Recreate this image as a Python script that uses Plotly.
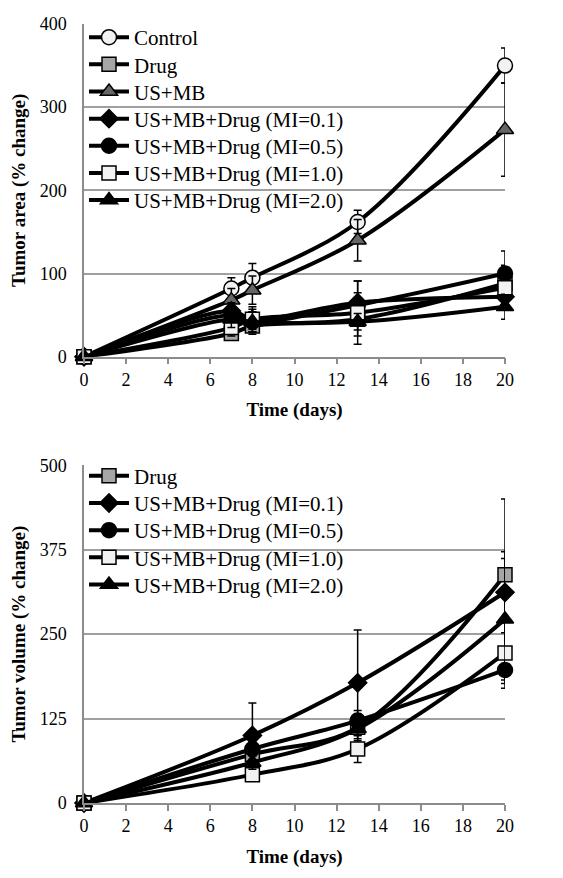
import plotly.graph_objects as go
from plotly.subplots import make_subplots

# ---- data: top panel (tumor area) ----
days_top = [0, 7, 8, 13, 20]
area_control = [0, 82, 95, 162, 350]
area_control_err = [0, 13, 17, 14, 21]
area_drug = [0, 28, 37, 45, 88]
area_drug_err = [0, 8, 10, 20, 22]
area_usmb = [0, 68, 80, 140, 273]
area_usmb_err = [0, 14, 17, 25, 56]
area_mi01 = [0, 55, 45, 65, 72]
area_mi01_err = [0, 10, 12, 26, 15]
area_mi05 = [0, 50, 42, 62, 100]
area_mi05_err = [0, 10, 12, 15, 27]
area_mi10 = [0, 35, 45, 53, 83]
area_mi10_err = [0, 10, 15, 38, 15]
area_mi20 = [0, 45, 42, 42, 60]
area_mi20_err = [0, 10, 12, 10, 15]

# ---- data: bottom panel (tumor volume) ----
days_bot = [0, 8, 13, 20]
vol_drug = [0, 72, 112, 338]
vol_drug_err = [0, 15, 20, 112]
vol_mi01 = [0, 100, 178, 312]
vol_mi01_err = [0, 48, 78, 60]
vol_mi05 = [0, 80, 122, 197]
vol_mi05_err = [0, 10, 15, 27]
vol_mi10 = [0, 42, 80, 222]
vol_mi10_err = [0, 8, 20, 45]
vol_mi20 = [0, 60, 110, 272]
vol_mi20_err = [0, 10, 15, 90]

x_ticks = list(range(0, 21, 2))

FONT = "Liberation Serif"

styles = {
    "Control": dict(symbol="circle", color="#f2f2f2", size=15),
    "Drug": dict(symbol="square", color="#a6a6a6", size=14),
    "US+MB": dict(symbol="triangle-up", color="#666666", size=15),
    "US+MB+Drug (MI=0.1)": dict(symbol="diamond", color="#000000", size=14),
    "US+MB+Drug (MI=0.5)": dict(symbol="circle", color="#000000", size=15),
    "US+MB+Drug (MI=1.0)": dict(symbol="square", color="#f2f2f2", size=14),
    "US+MB+Drug (MI=2.0)": dict(symbol="triangle-up", color="#000000", size=15),
}

# page has an 8px body margin; compensate so the plot lands where the reference has it
OFF = 8
W, H = 563 - OFF, 878 - OFF
plot_top_px, plot_bot_px = 14, 803
plot_h = plot_bot_px - plot_top_px
def fy(px):
    return (plot_bot_px - px) / plot_h

fig = make_subplots(rows=2, cols=1, vertical_spacing=0.13)

legend_layouts = {}
leg_font = dict(family=FONT, size=21, color="black")
counter = [1]

def add(name, x, y, err, row, first_center_px, idx):
    st = styles[name]
    counter[0] += 1
    lname = f"legend{counter[0]}"
    center = first_center_px + 27.5 * idx
    legend_layouts[lname] = dict(
        font=leg_font, bgcolor="rgba(0,0,0,0)", xanchor="left", yanchor="middle",
        itemwidth=40, x=0.0, y=fy(center - 4))
    fig.add_trace(go.Scatter(
        x=x, y=y, name=name, mode="lines+markers",
        line=dict(color="black", width=4, shape="spline"),
        marker=dict(symbol=st["symbol"], color=st["color"], size=st["size"],
                    line=dict(color="black", width=1.5)),
        error_y=dict(type="data", array=err, color="black", thickness=1.5, width=4),
        cliponaxis=False, legend=lname,
    ), row=row, col=1)

TOP_FIRST = 31.7
BOT_FIRST = 476
add("Control", days_top, area_control, area_control_err, 1, TOP_FIRST, 0)
add("Drug", days_top, area_drug, area_drug_err, 1, TOP_FIRST, 1)
add("US+MB", days_top, area_usmb, area_usmb_err, 1, TOP_FIRST, 2)
add("US+MB+Drug (MI=0.1)", days_top, area_mi01, area_mi01_err, 1, TOP_FIRST, 3)
add("US+MB+Drug (MI=0.5)", days_top, area_mi05, area_mi05_err, 1, TOP_FIRST, 4)
add("US+MB+Drug (MI=1.0)", days_top, area_mi10, area_mi10_err, 1, TOP_FIRST, 5)
add("US+MB+Drug (MI=2.0)", days_top, area_mi20, area_mi20_err, 1, TOP_FIRST, 6)

add("Drug", days_bot, vol_drug, vol_drug_err, 2, BOT_FIRST, 0)
add("US+MB+Drug (MI=0.1)", days_bot, vol_mi01, vol_mi01_err, 2, BOT_FIRST, 1)
add("US+MB+Drug (MI=0.5)", days_bot, vol_mi05, vol_mi05_err, 2, BOT_FIRST, 2)
add("US+MB+Drug (MI=1.0)", days_bot, vol_mi10, vol_mi10_err, 2, BOT_FIRST, 3)
add("US+MB+Drug (MI=2.0)", days_bot, vol_mi20, vol_mi20_err, 2, BOT_FIRST, 4)

title_font = dict(family=FONT, size=19, color="black")
tick_font = dict(family=FONT, size=18, color="black")

axis_x = dict(range=[0, 20], tickvals=x_ticks, showgrid=False, zeroline=False,
              showline=True, linecolor="#8c8c8c", linewidth=1.5,
              ticks="outside", ticklen=6, tickcolor="#8c8c8c", tickwidth=1.5,
              tickfont=tick_font,
              title=dict(text="<b>Time (days)</b>", font=title_font, standoff=14))
axis_y = dict(showgrid=True, gridcolor="#a0a0a0", gridwidth=1.5, zeroline=False,
              showline=True, linecolor="#8c8c8c", linewidth=1.5,
              ticks="outside", ticklen=12, tickcolor="rgba(0,0,0,0)",
              tickfont=tick_font)

fig.update_xaxes(**axis_x)
fig.update_yaxes(**axis_y)
fig.update_xaxes(domain=[0, 1])
fig.update_yaxes(row=1, col=1, range=[0, 400], tickvals=[0, 100, 200, 300, 400],
                 domain=[fy(351), 1],
                 title=dict(text="<b>Tumor area (% change)</b>", font=title_font, standoff=12))
fig.update_yaxes(row=2, col=1, range=[0, 500], tickvals=[0, 125, 250, 375, 500],
                 domain=[0, fy(461)],
                 title=dict(text="<b>Tumor volume (% change)</b>", font=title_font, standoff=12))

fig.update_layout(
    width=W, height=H,
    font=dict(family=FONT, color="black"),
    margin=dict(l=76 - OFF, r=58, t=plot_top_px - OFF, b=878 - plot_bot_px),
    plot_bgcolor="white", paper_bgcolor="white",
    **legend_layouts,
)

fig.write_html("out.html")
